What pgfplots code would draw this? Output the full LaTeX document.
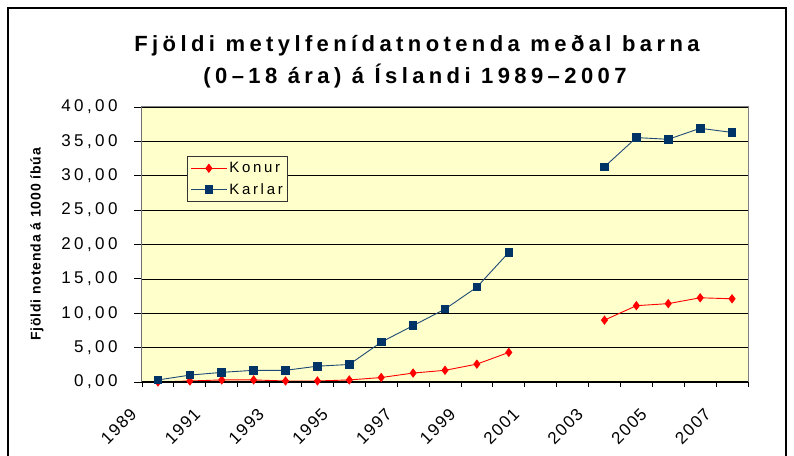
\documentclass[border=0pt]{standalone}
\usepackage{fontspec}
\setmainfont{Liberation Sans}
\newfontfamily\titlefont[LetterSpace=20]{Liberation Sans Bold}
\newfontfamily\ylabfont[LetterSpace=6]{Liberation Sans Bold}
\newfontfamily\ytickfont[LetterSpace=20]{Liberation Sans}
\newfontfamily\xtickfont[LetterSpace=8]{Liberation Sans}
\newfontfamily\legfont[LetterSpace=18]{Liberation Sans}
\usepackage{pgfplots}
\pgfplotsset{compat=1.18}
\usepackage{pgfplotstable}
\definecolor{bgyellow}{HTML}{FFFFCC}
\definecolor{navy}{HTML}{003366}
\definecolor{navyline}{HTML}{1F4A75}
\definecolor{konred}{HTML}{FF0000}

\pgfplotstableread{
year konur karlar
1989 0.0 0.3
1990 0.15 1.0
1991 0.3 1.4
1992 0.3 1.7
1993 0.15 1.7
1994 0.15 2.3
1995 0.3 2.55
1996 0.65 5.8
1997 1.3 8.2
1998 1.7 10.6
1999 2.6 13.8
2000 4.3 18.85
2001 nan nan
2002 nan nan
2003 9.0 31.3
2004 11.1 35.55
2005 11.4 35.3
2006 12.25 36.9
2007 12.1 36.3
}\datatable

\begin{document}
\begin{tikzpicture}[x=1bp,y=1bp]
\useasboundingbox (-142,-74) rectangle (652,382);
% outer chart frame
\draw[black, line width=1.2bp] (-134,-90) -- (-134,374) -- (644,374) -- (644,-90);
% title
\node[anchor=base, inner sep=0pt] at (275,330.3) {\titlefont\fontsize{22bp}{26bp}\selectfont Fjöldi metylfenídatnotenda meðal barna};
\node[anchor=base, inner sep=0pt] at (273,298.7) {\titlefont\fontsize{22bp}{26bp}\selectfont (0–18 ára) á Íslandi 1989–2007};
% y label
\node[rotate=90, inner sep=0pt] at (-105,137.5) {\ylabfont\fontsize{14bp}{16bp}\selectfont Fjöldi notenda á 1000 íbúa};
\begin{axis}[
  at={(0,0)}, anchor=south west,
  scale only axis, width=606bp, height=275bp,
  xmin=1988.5, xmax=2007.5, ymin=0, ymax=40,
  axis background/.style={fill=bgyellow},
  axis line style={draw=gray, line width=1bp},
  ymajorgrids, grid style={black, line width=0.7bp},
  ytick={0,5,...,40},
  xtick={1989,1991,1993,1995,1997,1999,2001,2003,2005,2007},
  xticklabels={1989,1991,1993,1995,1997,1999,2001,2003,2005,2007},
  minor xtick={1988.5,1989.5,...,2007.5},
  tick align=outside, xtick pos=bottom, ytick pos=left,
  major tick length=8bp, minor tick length=5bp,
  tick style={black, line width=0.8bp},
  major x tick style={draw=none},
  /pgf/number format/assume math mode=true,
  yticklabel style={font=\ytickfont\fontsize{17bp}{19bp}\selectfont, xshift=-13bp,
     /pgf/number format/.cd, fixed, fixed zerofill, precision=2, use comma, 1000 sep={}},
  xticklabel style={font=\xtickfont\fontsize{17bp}{19bp}\selectfont, xshift=-22bp, yshift=-19bp, rotate=45, anchor=east},
  unbounded coords=jump,
  legend cell align=left,
  legend style={at={(0.0743,0.8218)}, anchor=north west, draw=black!80, line width=0.8bp, fill=bgyellow,
     font=\legfont\fontsize{15bp}{17bp}\selectfont, inner xsep=3bp, inner ysep=4bp, row sep=5bp},
  legend image code/.code={\draw[mark repeat=2, mark phase=2, #1] plot coordinates {(0bp,0bp) (18bp,0bp) (36bp,0bp)};},
]
\addplot[konred, line width=0.9bp, mark=diamond*, mark size=4bp, mark options={fill=konred, draw=konred}] table[x=year, y=konur] {\datatable};
\addlegendentry{Konur}
\addplot[navyline, line width=0.9bp, mark=square*, mark size=3.8bp, mark options={fill=navy, draw=navy}] table[x=year, y=karlar] {\datatable};
\addlegendentry{Karlar}
\draw[black, line width=1bp] (rel axis cs:0,1) -- (rel axis cs:0,0) -- (rel axis cs:1,0);
\end{axis}
\end{tikzpicture}
\end{document}
